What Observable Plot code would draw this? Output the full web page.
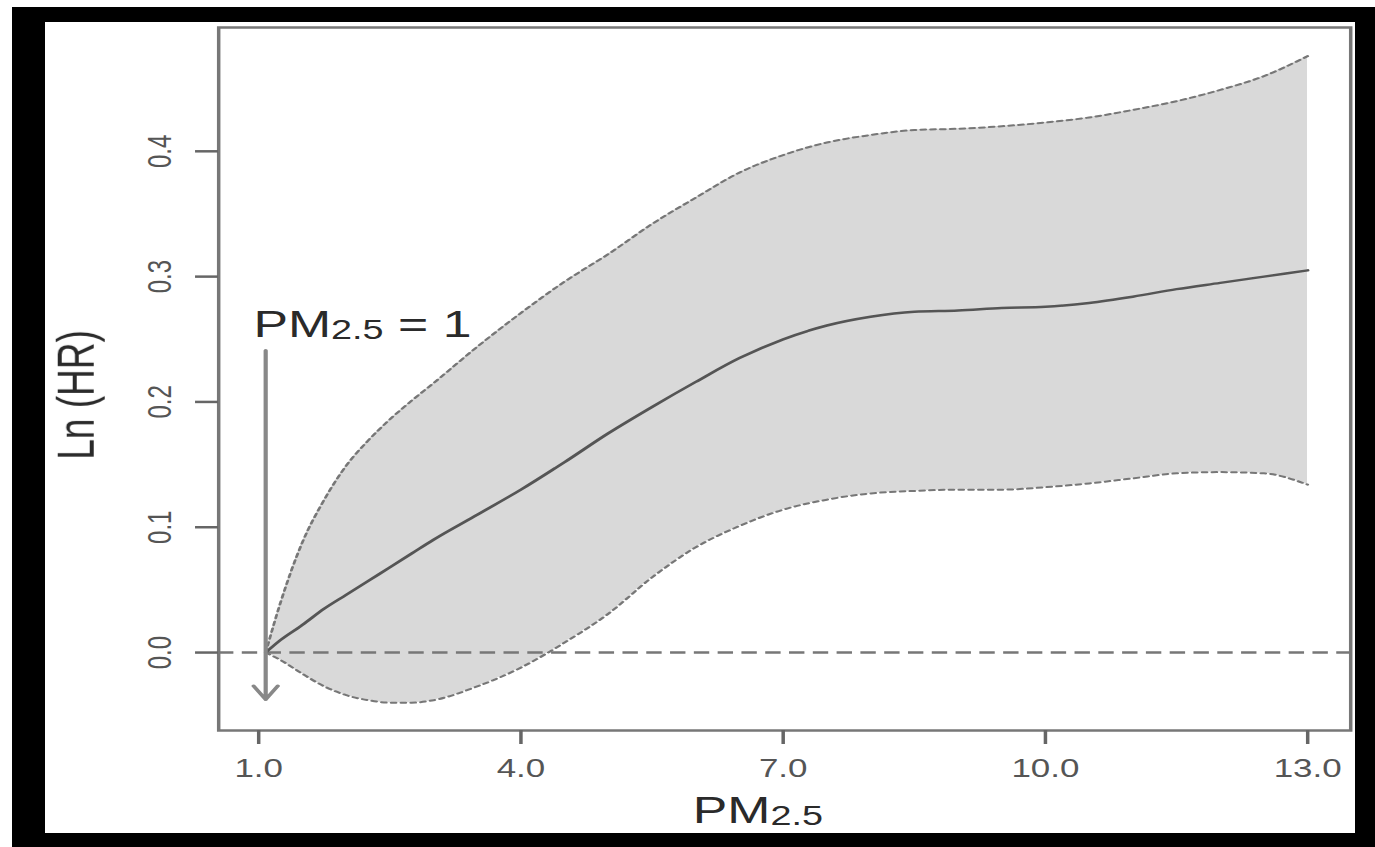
<!DOCTYPE html>
<html>
<head>
<meta charset="utf-8">
<script src="https://cdn.jsdelivr.net/npm/d3@7"></script>
<script src="https://cdn.jsdelivr.net/npm/@observablehq/plot@0.6"></script>
<style>
html, body { margin: 0; padding: 0; background: #fff; width: 1375px; height: 847px; overflow: hidden; }
#outer { position: absolute; left: 12px; top: 7px; width: 1363px; height: 840px; background: #000; }
#panel { position: absolute; left: 33px; top: 15px; width: 1310px; height: 811px; background: #fff; overflow: hidden; }
#stretch { width: 936px; height: 811px; transform: scaleX(1.39957); transform-origin: 0 0; }
</style>
</head>
<body>
<div id="outer"><div id="panel"><div id="stretch"></div></div></div>
<script>
// PM2.5 values (x grid)
const xs =       [1.08, 1.25, 1.5, 1.75, 2.0, 2.25, 2.5, 2.75, 3.0, 3.5, 4.0, 4.5, 5.0, 5.5, 6.0, 6.5, 7.0, 7.5, 8.0, 8.5, 9.0, 9.5, 10.0, 10.5, 11.0, 11.5, 12.0, 12.5, 13.0];
// Ln(HR) estimate
const mainVals = [0.0, 0.010, 0.022, 0.035, 0.046, 0.057, 0.068, 0.079, 0.090, 0.110, 0.130, 0.152, 0.175, 0.196, 0.216, 0.235, 0.250, 0.261, 0.268, 0.272, 0.273, 0.275, 0.276, 0.279, 0.284, 0.290, 0.295, 0.300, 0.305];
// lower confidence bound
const lowerVals = [0.0, -0.006, -0.017, -0.027, -0.034, -0.038, -0.040, -0.040, -0.038, -0.027, -0.012, 0.008, 0.031, 0.060, 0.084, 0.101, 0.114, 0.122, 0.127, 0.129, 0.130, 0.130, 0.132, 0.135, 0.139, 0.143, 0.144, 0.143, 0.134];
// upper confidence bound
const upperVals = [0.0, 0.040, 0.088, 0.122, 0.149, 0.169, 0.186, 0.201, 0.215, 0.244, 0.271, 0.296, 0.318, 0.342, 0.363, 0.383, 0.397, 0.407, 0.413, 0.417, 0.418, 0.420, 0.423, 0.427, 0.433, 0.440, 0.449, 0.460, 0.476];

const xTicks = [1, 4, 7, 10, 13];
const yTicks = [0.0, 0.1, 0.2, 0.3, 0.4];

const xTitle = "PM2.5";
const yTitle = "Ln (HR)";
const annotation = [{x: 0.94, y: 0.252, label: "PM2.5 = 1"}];
const arrowData = [{x: 1.08, y1: 0.241, y2: -0.0375}];

const rows = xs.map((x, i) => ({x, mid: mainVals[i], lo: lowerVals[i], hi: upperVals[i]}));

const font = "'Liberation Sans', Arial, Helvetica, sans-serif";

const svg = Plot.plot({
  width: 936,
  height: 811,
  marginLeft: 123.6,
  marginRight: 3.57,
  marginTop: 5,
  marginBottom: 103,
  x: {domain: [0.5424, 13.492]},
  y: {domain: [-0.0622, 0.4988]},
  style: {fontFamily: font, background: "white", overflow: "visible"},
  marks: [
    Plot.areaY(rows, {x: "x", y1: "lo", y2: "hi", fill: "#d9d9d9", curve: "monotone-x"}),
    Plot.ruleY([0], {stroke: "#777", strokeWidth: 2.5, strokeDasharray: "11,6"}),
    Plot.line(rows, {x: "x", y: "hi", stroke: "#777", strokeWidth: 2, strokeDasharray: "3.5,3.5", curve: "monotone-x"}),
    Plot.line(rows, {x: "x", y: "lo", stroke: "#777", strokeWidth: 2, strokeDasharray: "3.5,3.5", curve: "monotone-x"}),
    Plot.line(rows, {x: "x", y: "mid", stroke: "#555", strokeWidth: 2.5, curve: "monotone-x"}),
    Plot.arrow(arrowData, {x1: "x", x2: "x", y1: "y1", y2: "y2", stroke: "#888", strokeWidth: 3, headLength: 8, headAngle: 65}),
    Plot.frame({stroke: "#777", strokeWidth: 2.5}),
    Plot.axisX(xTicks, {tickSize: 14, tickPadding: 15, fontSize: 25, tickFormat: d => d.toFixed(1), stroke: "#666", fill: "#555", strokeWidth: 2.5, label: null}),
    Plot.axisY(yTicks, {tickSize: 16.4, tickFormat: () => "", stroke: "#666", strokeWidth: 2.5, label: null}),
    Plot.text(yTicks, {y: d => d, text: d => d.toFixed(1), frameAnchor: "left", dx: -34.3, rotate: -90, textAnchor: "middle", lineAnchor: "bottom", fontSize: 24, fill: "#555"}),
    Plot.text(annotation, {x: "x", y: "y", text: "label", textAnchor: "start", lineAnchor: "bottom", fontSize: 37, fill: "#2a2a2a"}),
    Plot.text([{label: xTitle, x: 6.71}], {x: "x", text: "label", frameAnchor: "bottom", dy: 92, textAnchor: "middle", lineAnchor: "bottom", fontSize: 37, fill: "#2a2a2a"}),
    Plot.text([{label: yTitle, y: 0.2056}], {y: "y", text: "label", frameAnchor: "left", dx: -89, rotate: -90, textAnchor: "middle", lineAnchor: "bottom", fontSize: 37, fill: "#2a2a2a"})
  ]
});

// Render "2.5" as a subscript in the PM2.5 labels
d3.select(svg).selectAll("text").each(function () {
  const full = this.textContent;
  if (full !== annotation[0].label && full !== xTitle) return;
  const m = full.match(/^(PM)(2\.5)(.*)$/);
  if (!m) return;
  const t = d3.select(this);
  t.text(null);
  t.append("tspan").text(m[1]);
  t.append("tspan").attr("font-size", 27).attr("dy", 2).text(m[2]);
  if (m[3]) t.append("tspan").attr("dy", -2).text(m[3]);
});

document.getElementById("stretch").appendChild(svg);
</script>
</body>
</html>
